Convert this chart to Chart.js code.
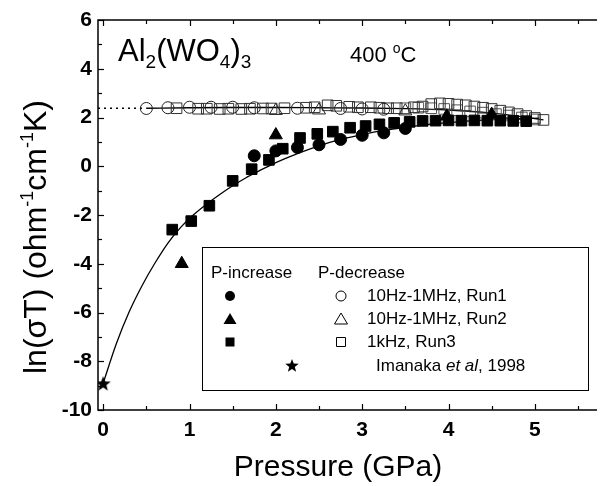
<!DOCTYPE html>
<html>
<head>
<meta charset="utf-8">
<style>
  html, body { margin: 0; padding: 0; background: #fff; }
  canvas { display: block; }
</style>
<script src="https://cdn.jsdelivr.net/npm/chart.js@4.4.0/dist/chart.umd.min.js"></script>
</head>
<body>
<canvas id="chart" width="606" height="486"></canvas>
<script>
const FONT = '"Liberation Sans", Arial, Helvetica, sans-serif';

// tick labels
const xMajor = [0, 1, 2, 3, 4, 5];
const yMajor = [-10, -8, -6, -4, -2, 0, 2, 4, 6];

// P-increase (filled symbols)
const incCirP = [1.75, 2.0, 2.25, 2.5, 2.75, 3.0, 3.25, 3.5];
const incCirS = [0.43, 0.63, 0.77, 0.88, 1.1, 1.27, 1.37, 1.55];
const incTriP = [0.91, 2.0, 3.98, 4.5];
const incTriS = [-4.0, 1.28, 2.05, 2.12];
const incSqP = [0.8, 1.02, 1.23, 1.5, 1.72, 1.92, 2.08, 2.28, 2.48, 2.66, 2.86, 3.04, 3.2, 3.37, 3.55, 3.7, 3.85, 4.0, 4.15, 4.3, 4.45, 4.6, 4.75, 4.9];
const incSqS = [-2.6, -2.25, -1.62, -0.6, -0.12, 0.26, 0.72, 1.16, 1.33, 1.42, 1.58, 1.65, 1.72, 1.78, 1.82, 1.86, 1.87, 1.88, 1.87, 1.88, 1.87, 1.87, 1.86, 1.85];

// P-decrease (open symbols)
const decCirP = [0.5, 0.75, 1.0, 1.25, 1.5, 1.75, 2.25, 2.75, 3.0, 3.25];
const decCirS = [2.37, 2.4, 2.42, 2.42, 2.42, 2.4, 2.38, 2.37, 2.35, 2.34];
const decTriP = [2.0, 2.5, 3.5];
const decTriS = [2.28, 2.3, 2.26];
const decSqP = [0.85, 1.1, 1.2, 1.35, 1.45, 1.6, 1.7, 1.85, 1.95, 2.1, 2.35, 2.45, 2.6, 2.7, 2.85, 2.95, 3.1, 3.2, 3.3, 3.4, 3.6, 3.7, 3.8, 3.9, 4.0, 4.1, 4.2, 4.3, 4.4, 4.5, 4.6, 4.7, 4.8, 4.9, 5.0, 5.1];
const decSqS = [2.38, 2.36, 2.36, 2.35, 2.36, 2.35, 2.36, 2.37, 2.37, 2.38, 2.4, 2.42, 2.5, 2.48, 2.44, 2.42, 2.42, 2.4, 2.38, 2.38, 2.42, 2.45, 2.55, 2.58, 2.56, 2.53, 2.5, 2.45, 2.4, 2.35, 2.28, 2.21, 2.14, 2.06, 1.98, 1.9];
const decSq2P = [3.5, 3.65, 3.8, 3.95, 4.1, 4.25, 4.4, 4.55, 4.7, 4.85, 5.0];
const decSq2S = [2.38, 2.4, 2.38, 2.35, 2.3, 2.25, 2.2, 2.14, 2.08, 2.0, 1.92];

// Imanaka et al, 1998
const starP = [0];
const starS = [-8.9];

// fitted curves
const fitIncP = [0, 0.15, 0.3, 0.45, 0.6, 0.75, 0.9, 1.05, 1.2, 1.35, 1.5, 1.65, 1.8, 2.0, 2.25, 2.5, 2.75, 3.0, 3.25, 3.5, 3.75, 4.0, 4.25, 4.5, 4.75, 5.05];
const fitIncS = [-8.9, -7.3, -5.98, -4.9, -3.97, -3.15, -2.5, -1.98, -1.55, -1.16, -0.8, -0.48, -0.2, 0.15, 0.52, 0.84, 1.1, 1.3, 1.47, 1.6, 1.71, 1.79, 1.86, 1.91, 1.95, 1.97];
const fitDecP = [0.5, 1.0, 1.5, 2.0, 2.5, 3.0, 3.5, 4.0, 4.5, 4.8, 5.1];
const fitDecS = [2.38, 2.4, 2.41, 2.41, 2.4, 2.39, 2.36, 2.3, 2.18, 2.06, 1.9];
const dotP = [-0.06, 0.5];
const dotS = [2.38, 2.38];

const pts = (xs, ys) => xs.map((x, i) => ({ x, y: ys[i] }));

function starImage(size) {
  const c = document.createElement('canvas');
  c.width = c.height = size;
  const g = c.getContext('2d');
  const r = size / 2, ri = r * 0.42;
  g.beginPath();
  for (let i = 0; i < 10; i++) {
    const rr = i % 2 ? ri : r;
    const a = -Math.PI / 2 + i * Math.PI / 5;
    g.lineTo(r + rr * Math.cos(a), r + 1 + rr * Math.sin(a));
  }
  g.closePath();
  g.fillStyle = '#000';
  g.fill();
  return c;
}
const starBig = starImage(16);
const starSmall = starImage(14);

// text with sub/superscripts
function rich(ctx, parts, x, y, align) {
  let w = 0;
  parts.forEach(p => { ctx.font = (p.style || '') + ' ' + p.s + 'px ' + FONT; w += ctx.measureText(p.t).width; });
  let cx = align === 'center' ? x - w / 2 : x;
  ctx.textBaseline = 'alphabetic';
  ctx.textAlign = 'left';
  parts.forEach(p => {
    ctx.font = (p.style || '') + ' ' + p.s + 'px ' + FONT;
    ctx.fillText(p.t, cx, y + (p.dy || 0));
    cx += ctx.measureText(p.t).width;
  });
}

function marker(ctx, kind, x, y, filled) {
  ctx.beginPath();
  if (kind === 'circle') ctx.arc(x, y, 5, 0, Math.PI * 2);
  else if (kind === 'tri') { ctx.moveTo(x, y - 6); ctx.lineTo(x + 6.5, y + 5); ctx.lineTo(x - 6.5, y + 5); ctx.closePath(); }
  else ctx.rect(x - 4.5, y - 4.5, 9, 9);
  if (filled) ctx.fill(); else ctx.stroke();
}

const decorPlugin = {
  id: 'decor',
  afterDraw(chart) {
    const { ctx, chartArea: a, scales: { x, y } } = chart;
    ctx.save();
    ctx.strokeStyle = '#000';
    ctx.fillStyle = '#000';
    ctx.lineWidth = 1.5;
    // frame (right side is cut off in the original)
    ctx.beginPath();
    ctx.moveTo(a.right, a.top); ctx.lineTo(a.left, a.top);
    ctx.lineTo(a.left, a.bottom); ctx.lineTo(a.right, a.bottom);
    ctx.stroke();
    // inward ticks
    ctx.lineWidth = 1.2;
    x.ticks.forEach(t => {
      const px = Math.round(x.getPixelForValue(t.value)) + 0.5;
      const len = xMajor.includes(t.value) ? 6 : 4;
      ctx.beginPath();
      ctx.moveTo(px, a.bottom); ctx.lineTo(px, a.bottom - len);
      ctx.moveTo(px, a.top); ctx.lineTo(px, a.top + len);
      ctx.stroke();
    });
    y.ticks.forEach(t => {
      const py = Math.round(y.getPixelForValue(t.value)) + 0.5;
      const len = yMajor.includes(t.value) ? 6 : 4;
      ctx.beginPath();
      ctx.moveTo(a.left, py); ctx.lineTo(a.left + len, py);
      ctx.stroke();
    });

    // axis titles
    rich(ctx, [{ t: 'Pressure (GPa)', s: 30 }], 338, 476, 'center');
    ctx.save();
    ctx.translate(46, 237);
    ctx.rotate(-Math.PI / 2);
    rich(ctx, [
      { t: 'ln(σT) (ohm', s: 32 }, { t: '-1', s: 18, dy: -13 },
      { t: 'cm', s: 32 }, { t: '-1', s: 18, dy: -13 },
      { t: 'K)', s: 32 }
    ], 0, 0, 'center');
    ctx.restore();

    // annotations
    rich(ctx, [
      { t: 'Al', s: 31 }, { t: '2', s: 19, dy: 7 },
      { t: '(WO', s: 31 }, { t: '4', s: 19, dy: 7 },
      { t: ')', s: 31 }, { t: '3', s: 19, dy: 7 }
    ], 118, 61, 'left');
    rich(ctx, [{ t: '400 ', s: 22 }, { t: 'o', s: 14, dy: -9 }, { t: 'C', s: 22 }], 350, 62, 'left');

    // legend box
    ctx.fillStyle = '#fff';
    ctx.fillRect(202, 247, 386, 143);
    ctx.strokeStyle = '#000';
    ctx.lineWidth = 1;
    ctx.strokeRect(202.5, 247.5, 386, 143);
    ctx.fillStyle = '#000';
    ctx.font = '17px ' + FONT;
    ctx.textBaseline = 'middle';
    ctx.textAlign = 'left';
    ctx.fillText('P-increase', 211, 273);
    ctx.fillText('P-decrease', 318, 273);
    const rows = [296, 319, 342, 365];
    const kinds = ['circle', 'tri', 'rect'];
    const labels = ['10Hz-1MHz, Run1', '10Hz-1MHz, Run2', '1kHz, Run3'];
    kinds.forEach((k, i) => {
      marker(ctx, k, 230, rows[i], true);
      marker(ctx, k, 341, rows[i], false);
      ctx.fillText(labels[i], 367, rows[i]);
    });
    ctx.drawImage(starSmall, 292 - 7, rows[3] - 7);
    rich(ctx, [{ t: 'Imanaka ', s: 17 }, { t: 'et al', s: 17, style: 'italic' }, { t: ', 1998', s: 17 }], 376, rows[3] + 6, 'left');
    ctx.restore();
  }
};

const line = (data, extra) => Object.assign({
  data, showLine: true, borderColor: '#000', borderWidth: 1.3,
  pointRadius: 0, cubicInterpolationMode: 'monotone', fill: false
}, extra);

const sym = (data, style, radius, filled, extra) => Object.assign({
  data, showLine: false, pointStyle: style, pointRadius: radius,
  backgroundColor: filled ? '#000' : 'rgba(0,0,0,0)',
  borderColor: filled ? '#000' : '#222', borderWidth: 1
}, extra);

new Chart(document.getElementById('chart'), {
  type: 'scatter',
  data: {
    datasets: [
      line(pts(fitIncP, fitIncS)),
      line(pts(fitDecP, fitDecS)),
      line(pts(dotP, dotS), { borderDash: [2, 4], borderWidth: 1.3 }),
      sym(pts(decSq2P, decSq2S), 'rect', 7.5, false, { borderColor: '#555' }),
      sym(pts(decSqP, decSqS), 'rect', 7.5, false, { borderColor: '#333' }),
      sym(pts(decCirP, decCirS), 'circle', 6, false),
      sym(pts(decTriP, decTriS), 'triangle', 7.5, false),
      sym(pts(incSqP, incSqS), 'rect', 7.5, true),
      sym(pts(incCirP, incCirS), 'circle', 6, true),
      sym(pts(incTriP, incTriS), 'triangle', 7.5, true),
      sym(pts(starP, starS), starBig, 8, true)
    ].map((d, i, arr) => Object.assign(d, { order: arr.length - i }))
  },
  options: {
    responsive: false,
    animation: false,
    events: [],
    layout: { padding: { top: 20, left: 0, right: 0, bottom: 0 } },
    plugins: { legend: { display: false }, tooltip: { enabled: false } },
    scales: {
      x: {
        type: 'linear', min: -0.06, max: 5.72,
        afterFit: s => { s.height = 76; },
        grid: { display: false, drawTicks: false },
        border: { display: false },
        ticks: {
          stepSize: 0.5, includeBounds: false, padding: 8, maxRotation: 0, autoSkip: false,
          color: '#000', font: { family: FONT, size: 21, weight: 'bold' },
          callback: v => xMajor.includes(v) ? String(v) : ''
        }
      },
      y: {
        type: 'linear', min: -10, max: 6,
        afterFit: s => { s.width = 98; },
        grid: { display: false, drawTicks: false },
        border: { display: false },
        ticks: {
          stepSize: 1, padding: 6, autoSkip: false,
          color: '#000', font: { family: FONT, size: 21, weight: 'bold' },
          callback: v => yMajor.includes(v) ? String(v) : ''
        }
      }
    }
  },
  plugins: [decorPlugin]
});
</script>
</body>
</html>
